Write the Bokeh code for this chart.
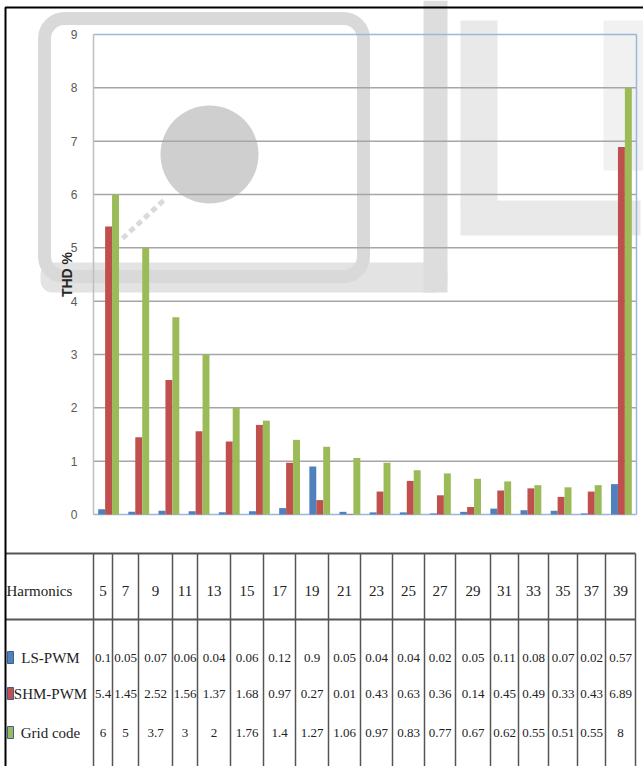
import math
from bokeh.plotting import figure
from bokeh.models import Range1d, LinearAxis, FixedTicker, ColumnDataSource
from bokeh.core.properties import value
from bokeh.embed import file_html
from bokeh.resources import INLINE

# ---- data -------------------------------------------------------------
harmonics = [5, 7, 9, 11, 13, 15, 17, 19, 21, 23, 25, 27, 29, 31, 33, 35, 37, 39]
ls_pwm = [0.1, 0.05, 0.07, 0.06, 0.04, 0.06, 0.12, 0.9, 0.05, 0.04, 0.04, 0.02,
          0.05, 0.11, 0.08, 0.07, 0.02, 0.57]
shm_pwm = [5.4, 1.45, 2.52, 1.56, 1.37, 1.68, 0.97, 0.27, 0.01, 0.43, 0.63, 0.36,
           0.14, 0.45, 0.49, 0.33, 0.43, 6.89]
grid_code = [6, 5, 3.7, 3, 2, 1.76, 1.4, 1.27, 1.06, 0.97, 0.83, 0.77,
             0.67, 0.62, 0.55, 0.51, 0.55, 8]
series_names = ["LS-PWM", "SHM-PWM", "Grid code"]
y_ticks = [0, 1, 2, 3, 4, 5, 6, 7, 8, 9]
row_header = "Harmonics"
axis_title = "THD %"

# ---- layout (canvas pixels) -------------------------------------------
W, H = 643, 766
PLOT_L, PLOT_R, PLOT_T, PLOT_B = 93, 636, 34, 514
Y_MAX = y_ticks[-1]
COLORS = ["#4F81BD", "#C0504D", "#9BBB59"]
TABLE_TOP, TABLE_MID = 553, 619
COL_EDGES = [93, 112, 138, 172, 197, 230, 263, 295, 328, 360, 392, 424,
             455, 490, 518, 548, 577, 605, 635]
HEADER_Y = 590
ROW_YS = [657, 693, 732]
TABLE_FONT = value("Liberation Serif")

n = len(harmonics)
ppu = (PLOT_B - PLOT_T) / Y_MAX          # pixels per THD unit
cw = (PLOT_R - PLOT_L) / n               # pixels per harmonic group

p = figure(width=W, height=H, x_range=Range1d(0, W), y_range=Range1d(H, 0),
           output_backend="svg", toolbar_location=None, min_border=0,
           x_axis_type=None, y_axis_type=None)
p.outline_line_color = None
p.background_fill_color = "white"
p.border_fill_color = "white"

# value scales for the chart area, laid over the canvas
p.extra_y_ranges = {"thd": Range1d(start=(PLOT_B - H) / ppu, end=PLOT_B / ppu)}
p.extra_x_ranges = {"cat": Range1d(start=-PLOT_L / cw - 0.5,
                                   end=(W - PLOT_L) / cw - 0.5)}

# ---- faint logo stamp behind the chart --------------------------------
wm = "#d9d9d9"
p.quad(left=[40], right=[447], top=[262], bottom=[292], fill_color="#e3e3e3",
       line_color=None, border_radius=12)
p.quad(left=[423], right=[447], top=[0], bottom=[292], fill_color="#dddddd", line_color=None)
p.quad(left=[460], right=[497], top=[20], bottom=[205], fill_color="#e9e9e9", line_color=None)
p.quad(left=[460], right=[640], top=[200], bottom=[235], fill_color="#e9e9e9", line_color=None)
p.quad(left=[603], right=[643], top=[20], bottom=[170], fill_color="#f1f1f1", line_color=None)
p.quad(left=[44], right=[363], top=[18], bottom=[276], fill_color=None,
       line_color=wm, line_width=13, border_radius=20)
p.circle(x=[209], y=[154], radius=49, fill_color="#cfcfcf", line_color=None)
p.line(x=[163, 122], y=[200, 238], line_width=5, line_dash="6 4", line_color="#dadada")

# ---- gridlines and plot-area frame ------------------------------------
grid_src = ColumnDataSource(dict(y=y_ticks[1:-1]))
p.segment(x0=PLOT_L, x1=PLOT_R, y0="y", y1="y", source=grid_src,
          line_color="#a6a6a6", line_width=1.5, y_range_name="thd")
p.segment(x0=[PLOT_L, PLOT_R, PLOT_L], x1=[PLOT_R, PLOT_R, PLOT_R],
          y0=[Y_MAX, 0, 0], y1=[Y_MAX, Y_MAX, 0],
          line_color="#9bb7dc", line_width=1.5, y_range_name="thd")

# ---- grouped bars -----------------------------------------------------
bw = 0.23
idx = list(range(n))
for k, (vals, col) in enumerate(zip([ls_pwm, shm_pwm, grid_code], COLORS)):
    src = ColumnDataSource(dict(x=[i + (k - 1) * bw for i in idx], top=vals))
    p.vbar(x="x", top="top", bottom=0, width=bw, source=src, fill_color=col,
           line_color=None, x_range_name="cat", y_range_name="thd")

# ---- value axis -------------------------------------------------------
yaxis = LinearAxis(y_range_name="thd", fixed_location=PLOT_L, bounds=(0, Y_MAX),
                   ticker=FixedTicker(ticks=y_ticks))
yaxis.axis_line_color = "#bfbfbf"
yaxis.axis_line_width = 1.5
yaxis.major_tick_line_color = None
yaxis.minor_tick_line_color = None
yaxis.major_label_text_color = "#595959"
yaxis.major_label_text_font = "Liberation Sans"
yaxis.major_label_text_font_size = "12px"
yaxis.major_label_standoff = 10
p.add_layout(yaxis, "left")

# vertical axis title, centred on the value span
p.text(x=[66], y=[Y_MAX / 2], text=[axis_title], angle=math.pi / 2,
       text_font=value("Liberation Sans"), text_font_style="bold",
       text_font_size="14px", text_align="center", text_baseline="middle",
       text_color="#262626", y_range_name="thd")

# ---- data table under the chart ---------------------------------------
tbl_line = "#555555"
p.segment(x0=[5, 5], x1=[COL_EDGES[-1]] * 2, y0=[TABLE_TOP, TABLE_MID],
          y1=[TABLE_TOP, TABLE_MID], line_color=tbl_line, line_width=2)
p.segment(x0=COL_EDGES, x1=COL_EDGES, y0=[TABLE_TOP] * len(COL_EDGES),
          y1=[H] * len(COL_EDGES), line_color=tbl_line, line_width=1.5)

centers = [(a + b) / 2 for a, b in zip(COL_EDGES[:-1], COL_EDGES[1:])]
p.text(x=[6], y=[HEADER_Y], text=[row_header], text_font=TABLE_FONT,
       text_font_size="15px", text_baseline="middle", text_align="left",
       text_color="#222222")
p.text(x=centers, y=[HEADER_Y] * n, text=[str(h) for h in harmonics],
       text_font=TABLE_FONT, text_font_size="15px", text_baseline="middle",
       text_align="center", text_color="#222222")

for name, vals, col, ry in zip(series_names, [ls_pwm, shm_pwm, grid_code], COLORS, ROW_YS):
    p.quad(left=[7], right=[13], top=[ry - 6], bottom=[ry + 6], fill_color=col,
           line_color="#3e5f8c", line_width=1)
    p.text(x=[50], y=[ry], text=[name], text_font=TABLE_FONT, text_font_size="15px",
           text_baseline="middle", text_align="center", text_color="#222222")
    p.text(x=centers, y=[ry] * n, text=[f"{v:g}" for v in vals], text_font=TABLE_FONT,
           text_font_size="13px", text_baseline="middle", text_align="center",
           text_color="#222222")

# outer page rule
p.line(x=[5, 5, W], y=[H, 7, 7], line_color="black", line_width=2)

open("out.html", "w").write(file_html(p, INLINE))
